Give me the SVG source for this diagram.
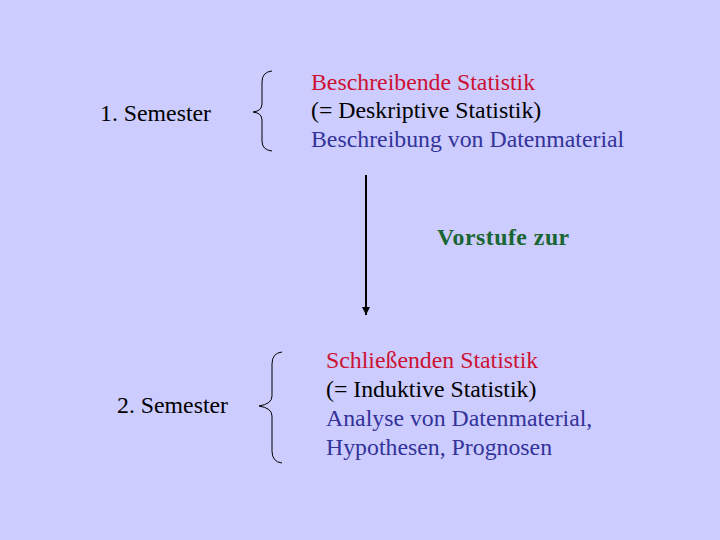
<svg xmlns="http://www.w3.org/2000/svg" width="720" height="540" viewBox="0 0 720 540">
<defs>
<style>
text{font-family:"Liberation Serif","Times New Roman",serif;font-size:23.8px}
.red{fill:#CC1133}.blk{fill:#000}.blue{fill:#333399}
.grn{fill:#1A6633;font-weight:bold;letter-spacing:0.5px}
.brace{fill:none;stroke:#000;stroke-width:1}
</style>
<marker id="ah" markerWidth="8" markerHeight="8" refX="8" refY="4" orient="auto" markerUnits="userSpaceOnUse" viewBox="0 0 8 8">
<path d="M0,0 L8,4 L0,8 Z" fill="#000"/>
</marker>
</defs>
<rect width="720" height="540" fill="#CCCCFF"/>
<g id="sem1">
<text x="100" y="121" class="blk">1. Semester</text>
</g>
<g id="brace1">
<path class="brace" d="M272,71 Q262,72 262,82 L262,104 Q262,111 253,112 Q262,113 262,120 L262,141 Q262,150 272,151"/>
</g>
<g id="block1">
<text x="311" y="90" class="red">Beschreibende Statistik</text>
<text x="311" y="118" class="blk">(= Deskriptive Statistik)</text>
<text x="311" y="147" class="blue">Beschreibung von Datenmaterial</text>
</g>
<g id="connectors">
<line x1="366" y1="175" x2="366" y2="315" stroke="#000" stroke-width="2" marker-end="url(#ah)"/>
</g>
<g id="label">
<text x="437" y="245" class="grn">Vorstufe zur</text>
</g>
<g id="sem2">
<text x="117" y="413" class="blk">2. Semester</text>
</g>
<g id="brace2">
<path class="brace" d="M282,352 Q272,353 272,364 L272,396 Q272,404 259,406 Q272,408 272,416 L272,451 Q272,462 282,463"/>
</g>
<g id="block2">
<text x="326" y="368" class="red">Schließenden Statistik</text>
<text x="326" y="397" class="blk">(= Induktive Statistik)</text>
<text x="326" y="426" class="blue">Analyse von Datenmaterial,</text>
<text x="326" y="455" class="blue">Hypothesen, Prognosen</text>
</g>
</svg>
